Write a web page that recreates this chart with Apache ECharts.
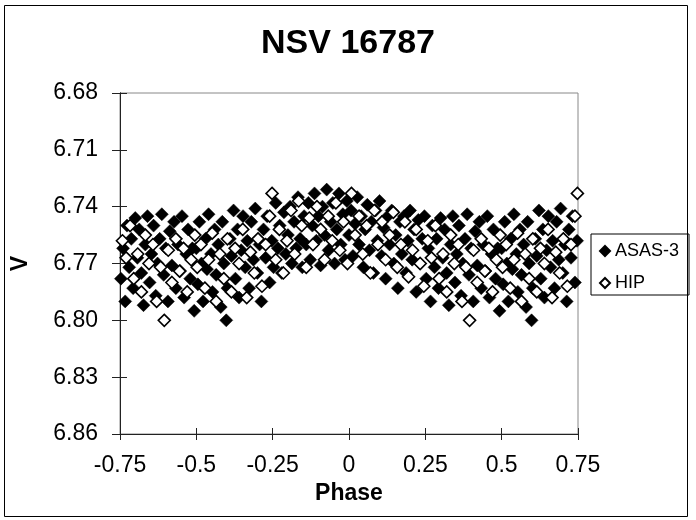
<!DOCTYPE html>
<html><head><meta charset="utf-8">
<script src="https://cdn.jsdelivr.net/npm/echarts@6/dist/echarts.min.js"></script>
<style>html,body{margin:0;padding:0;background:#fff}#c{width:696px;height:520px}</style>
</head><body><div id="c"></div>
<script>
const title = "NSV 16787";
const xTicks = [-0.75, -0.5, -0.25, 0, 0.25, 0.5, 0.75];
const yTicks = [6.68, 6.71, 6.74, 6.77, 6.80, 6.83, 6.86];
// base phases in [-0.5, 0.5]; the plot repeats 0.25..0.5 at -0.75..-0.5 and -0.5..-0.25 at 0.5..0.75
const asasPhase = [-0.50,-0.495,-0.49,-0.483,-0.478,-0.47,-0.465,-0.46,-0.452,-0.447,-0.44,-0.435,-0.428,-0.42,-0.415,-0.41,-0.402,-0.398,-0.39,-0.385,-0.378,-0.372,-0.365,-0.36,-0.353,-0.347,-0.34,-0.333,-0.327,-0.32,-0.313,-0.307,-0.30,-0.293,-0.287,-0.28,-0.273,-0.268,-0.26,-0.253,-0.247,-0.24,-0.233,-0.227,-0.22,-0.213,-0.207,-0.20,-0.193,-0.187,-0.18,-0.173,-0.167,-0.16,-0.153,-0.147,-0.14,-0.133,-0.127,-0.12,-0.113,-0.107,-0.10,-0.093,-0.087,-0.08,-0.073,-0.067,-0.06,-0.053,-0.047,-0.04,-0.033,-0.027,-0.02,-0.013,-0.007,0.0,0.007,0.013,0.02,0.027,0.033,0.04,0.047,0.053,0.06,0.067,0.073,0.08,0.087,0.093,0.10,0.107,0.113,0.12,0.127,0.133,0.14,0.147,0.153,0.16,0.167,0.173,0.18,0.187,0.193,0.20,0.207,0.213,0.22,0.227,0.233,0.24,0.247,0.253,0.26,0.267,0.273,0.28,0.287,0.293,0.30,0.307,0.313,0.32,0.327,0.333,0.34,0.347,0.353,0.36,0.367,0.373,0.38,0.387,0.393,0.40,0.407,0.413,0.42,0.427,0.433,0.44,0.447,0.453,0.46,0.467,0.473,0.48,0.487,0.493];
const asasMag = [6.762,6.781,6.748,6.770,6.790,6.757,6.773,6.744,6.765,6.785,6.752,6.776,6.760,6.793,6.748,6.770,6.800,6.783,6.757,6.766,6.742,6.778,6.752,6.788,6.763,6.745,6.772,6.758,6.783,6.748,6.768,6.741,6.775,6.760,6.790,6.752,6.767,6.745,6.780,6.758,6.772,6.738,6.762,6.750,6.775,6.743,6.765,6.755,6.740,6.770,6.748,6.762,6.735,6.757,6.772,6.745,6.760,6.738,6.768,6.750,6.733,6.758,6.745,6.771,6.740,6.755,6.731,6.763,6.748,6.738,6.770,6.752,6.733,6.760,6.744,6.768,6.737,6.755,6.742,6.766,6.749,6.735,6.760,6.745,6.772,6.752,6.739,6.763,6.748,6.775,6.742,6.758,6.737,6.766,6.751,6.778,6.745,6.760,6.742,6.770,6.755,6.783,6.748,6.765,6.745,6.775,6.758,6.742,6.768,6.752,6.785,6.747,6.770,6.757,6.745,6.778,6.762,6.790,6.750,6.772,6.757,6.783,6.746,6.767,6.752,6.775,6.792,6.760,6.745,6.780,6.765,6.750,6.787,6.770,6.757,6.744,6.776,6.762,6.790,6.753,6.771,6.748,6.783,6.760,6.774,6.745,6.788,6.765,6.752,6.778,6.762,6.795];
const hipPhase = [-0.497,-0.485,-0.472,-0.46,-0.448,-0.435,-0.423,-0.41,-0.398,-0.385,-0.373,-0.36,-0.348,-0.335,-0.323,-0.31,-0.298,-0.285,-0.273,-0.26,-0.252,-0.24,-0.228,-0.215,-0.203,-0.19,-0.178,-0.165,-0.155,-0.14,-0.13,-0.118,-0.105,-0.093,-0.08,-0.068,-0.055,-0.043,-0.03,-0.018,-0.005,0.008,0.02,0.033,0.045,0.058,0.07,0.083,0.095,0.108,0.12,0.133,0.145,0.158,0.17,0.183,0.195,0.208,0.22,0.233,0.245,0.258,0.27,0.283,0.295,0.308,0.32,0.333,0.345,0.358,0.37,0.383,0.395,0.408,0.42,0.433,0.445,0.458,0.47,0.483,0.495];
const hipMag = [6.772,6.760,6.783,6.768,6.754,6.790,6.765,6.778,6.757,6.785,6.762,6.770,6.752,6.788,6.764,6.775,6.757,6.782,6.760,6.745,6.733,6.768,6.752,6.775,6.758,6.742,6.765,6.737,6.750,6.772,6.746,6.760,6.740,6.752,6.768,6.745,6.758,6.738,6.763,6.748,6.770,6.733,6.755,6.745,6.765,6.750,6.775,6.742,6.760,6.748,6.768,6.755,6.743,6.772,6.760,6.748,6.777,6.763,6.752,6.770,6.782,6.758,6.767,6.750,6.778,6.765,6.785,6.755,6.770,6.760,6.790,6.772,6.800,6.763,6.780,6.757,6.774,6.762,6.785,6.768,6.755];

function phased(ph, mg) {
  const out = [];
  for (let i = 0; i < ph.length; i++) {
    out.push([ph[i], mg[i]]);
    if (ph[i] >= 0.25) out.push([ph[i] - 1, mg[i]]);
    if (ph[i] <= -0.25) out.push([ph[i] + 1, mg[i]]);
  }
  return out;
}

const FONT = '"Liberation Sans", Arial, sans-serif';
const chart = echarts.init(document.getElementById('c'), null, {renderer: 'canvas'});
const baseX = {
  type: 'value', min: -0.75, max: 0.75, interval: 0.25,
  splitLine: {show: false},
  axisLine: {onZero: false, lineStyle: {color: '#222', width: 1}}
};
const baseY = {
  type: 'value', inverse: true, min: 6.68, max: 6.86, interval: 0.03,
  splitLine: {show: false},
  axisLine: {onZero: false, lineStyle: {color: '#222', width: 1}}
};
chart.setOption({
  backgroundColor: '#fff',
  animation: false,
  title: {text: title, left: 'center', top: 22, textStyle: {fontFamily: FONT, fontSize: 34, fontWeight: 'bold', color: '#000'}},
  grid: {left: 120, top: 93, width: 458, height: 341, show: true, borderColor: '#888', borderWidth: 1, containLabel: false},
  legend: {
    orient: 'vertical', left: 591, top: 234, padding: [8, 10, 3, 8], itemGap: 14,
    borderColor: '#000', borderWidth: 1, itemWidth: 10, itemHeight: 10,
    textStyle: {fontFamily: FONT, fontSize: 18, lineHeight: 18, color: '#000'},
    data: [{name: 'ASAS-3', icon: 'diamond'}, {name: 'HIP', icon: 'diamond'}]
  },
  xAxis: [
    Object.assign({}, baseX, {
      position: 'bottom',
      axisTick: {show: true, inside: false, length: 6, lineStyle: {color: '#222'}},
      axisLabel: {fontFamily: FONT, fontSize: 23, color: '#000', margin: 20,
        formatter: v => { const s = xTicks.find(t => Math.abs(t - v) < 1e-6); return s === undefined ? '' : String(s); }},
      name: 'Phase', nameLocation: 'middle', nameGap: 47,
      nameTextStyle: {fontFamily: FONT, fontSize: 23, fontWeight: 'bold', color: '#000'}
    }),
    Object.assign({}, baseX, {
      position: 'bottom',
      axisTick: {show: true, inside: true, length: 6, lineStyle: {color: '#222'}},
      axisLabel: {show: false}
    })
  ],
  yAxis: [
    Object.assign({}, baseY, {
      position: 'left',
      axisTick: {show: true, inside: false, length: 8, lineStyle: {color: '#222'}},
      axisLabel: {fontFamily: FONT, fontSize: 23, color: '#000', margin: 22,
        formatter: v => { const s = yTicks.find(t => Math.abs(t - v) < 1e-6); return s === undefined ? '' : s.toFixed(2); }},
      name: 'V', nameLocation: 'middle', nameGap: 88, nameRotate: 90,
      nameTextStyle: {fontFamily: FONT, fontSize: 23, fontWeight: 'bold', color: '#000'}
    }),
    Object.assign({}, baseY, {
      position: 'left',
      axisTick: {show: true, inside: true, length: 7, lineStyle: {color: '#222'}},
      axisLabel: {show: false}
    })
  ],
  series: [
    {name: 'ASAS-3', type: 'scatter', symbol: 'diamond', symbolSize: 13,
     xAxisIndex: 0, yAxisIndex: 0,
     itemStyle: {color: '#000', borderColor: '#000', borderWidth: 0.5, opacity: 1},
     data: phased(asasPhase, asasMag)},
    {name: 'HIP', type: 'scatter', symbol: 'diamond', symbolSize: 12,
     xAxisIndex: 0, yAxisIndex: 0,
     itemStyle: {color: '#fff', borderColor: '#000', borderWidth: 1.6, opacity: 1},
     data: phased(hipPhase, hipMag)}
  ],
  graphic: [{type: 'rect', shape: {x: 4.5, y: 5.5, width: 683, height: 511}, style: {fill: null, stroke: '#000', lineWidth: 1}, silent: true, z: 100}]
});
</script></body></html>
